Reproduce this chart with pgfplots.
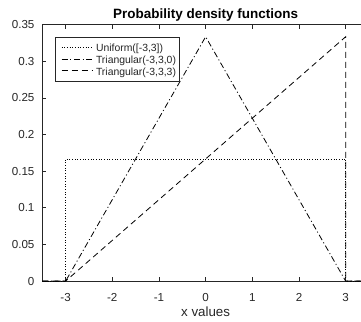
\documentclass[border=0pt]{standalone}
\usepackage{pgfplots}
\pgfplotsset{compat=1.18}
\usepackage{fontspec}
\setmainfont{Liberation Sans}
\definecolor{axgray}{gray}{0.15}
\begin{document}
\begin{tikzpicture}
\useasboundingbox (-31.7pt,-30pt) rectangle (239pt,210.8pt);
\clip (-31.7pt,-30pt) rectangle (239pt,210.8pt);
\begin{axis}[
  scale only axis,
  width=245pt, height=192.4pt,
  xmin=-3.5, xmax=3.5, ymin=0, ymax=0.35,
  xtick={-3,-2,-1,0,1,2,3},
  xticklabels={-3,-2,-1,0,1,2,3},
  ytick={0,0.05,0.1,0.15,0.2,0.25,0.3,0.35},
  yticklabels={0,0.05,0.1,0.15,0.2,0.25,0.3,0.35},
  tick align=inside,
  major tick length=3pt,
  axis line style={axgray, line width=0.5pt},
  every tick/.style={axgray, line width=0.5pt},
  tick label style={font=\fontsize{8.7}{10}\selectfont, text=axgray},
  xticklabel style={anchor=base, yshift=-15pt},
  yticklabel style={xshift=-2.35pt},
  title style={font=\fontsize{10.1}{12}\selectfont\bfseries, at={(0.5,1)}, anchor=base, yshift=-1.8pt},
  title={Probability density functions},
  xlabel={x values},
  xlabel style={font=\fontsize{10}{12}\selectfont, text=axgray, at={(0.5,0)}, anchor=base, yshift=-26.3pt},
  /pgf/number format/assume math mode=true,
  legend cell align=left,
  legend style={at={(0.0386,0.953)}, anchor=north west, draw=axgray, line width=0.5pt,
    font=\fontsize{7.8}{9}\selectfont, text=axgray, inner xsep=2.5pt, inner ysep=3.4pt,
    column sep=1.8pt, row sep=0.4pt,
    nodes={inner sep=0pt, text height=7.5pt, text depth=1pt},
    cells={anchor=west}},
  legend image code/.code={\path (0pt,0pt); \draw[#1] (2pt,0pt) -- (25.7pt,0pt);},
]
\addplot[black, line width=0.6pt, dash pattern=on 0.6pt off 1.4pt] coordinates {
  (-3.5,0) (-3,0) (-3,0.166667) (3,0.166667) (3,0) (3.5,0)};
\addlegendentry{Uniform([-3,3])}
\addplot[black, line width=0.6pt, dash pattern=on 4.5pt off 2pt on 0.8pt off 2pt] coordinates {
  (-3.5,0) (-3,0) (0,0.333333) (3,0) (3.5,0)};
\addlegendentry{Triangular(-3,3,0)}
\addplot[black, line width=0.6pt, dash pattern=on 4.5pt off 3pt] coordinates {
  (-3.5,0) (-3,0) (3,0.333333) (3,0) (3.5,0)};
\addlegendentry{Triangular(-3,3,3)}
\end{axis}
\end{tikzpicture}
\end{document}
